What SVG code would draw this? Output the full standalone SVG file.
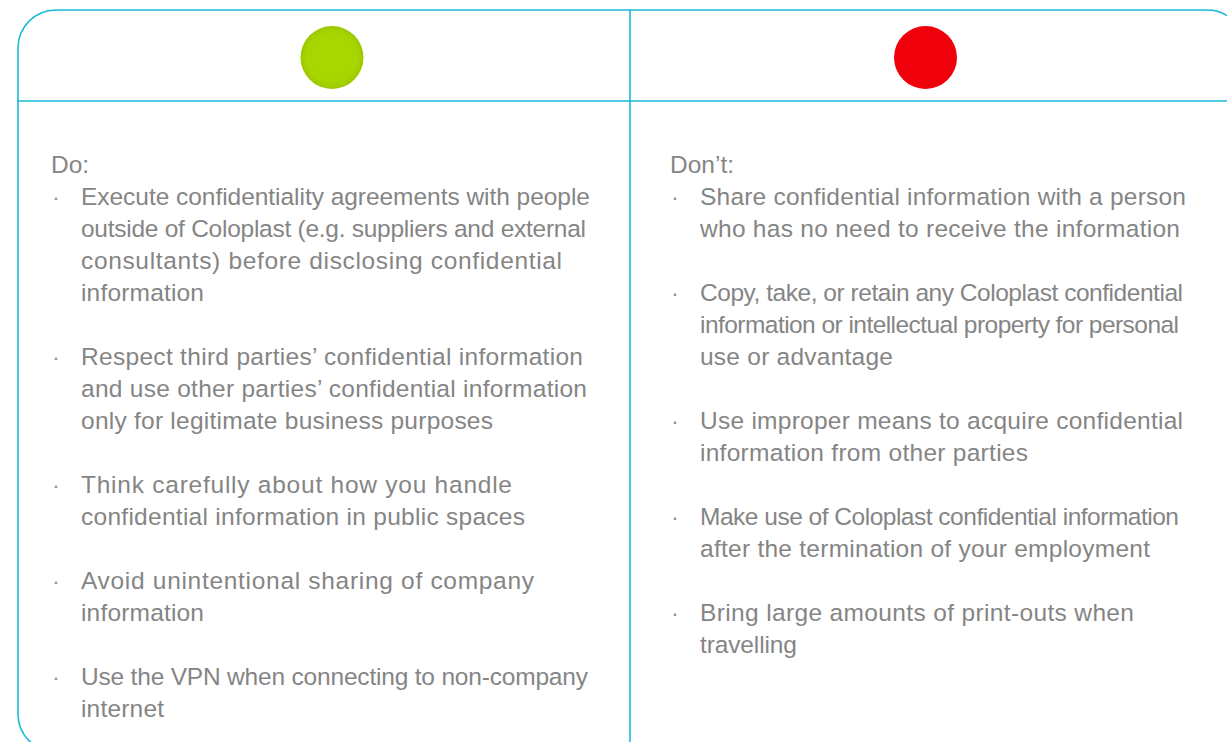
<svg xmlns="http://www.w3.org/2000/svg" width="1227" height="742" viewBox="0 0 1227 742">
<style>
.frame{fill:none;stroke:#19b9d9;stroke-width:1.6}
.t{font-family:"Liberation Sans",Arial,sans-serif;font-size:24.5px;fill:#858585}
.b{font-family:"Liberation Sans",Arial,sans-serif;font-size:22px;fill:#8a8a8a;text-anchor:middle}
</style>
<defs>
<radialGradient id="g" cx="0.5" cy="0.5" r="0.5">
<stop offset="0" stop-color="#aad800"/>
<stop offset="0.8" stop-color="#a6d500"/>
<stop offset="1" stop-color="#9cc800"/>
</radialGradient>
</defs>
<rect width="1227" height="742" fill="#ffffff"/>
<g id="frame">
<rect class="frame" x="18" y="10" width="1227" height="742" rx="38" ry="38"/>
<line class="frame" x1="18" y1="101" x2="1227" y2="101"/>
<line class="frame" x1="630" y1="10" x2="630" y2="742"/>
</g>
<g id="do-icon"><circle cx="332" cy="57.5" r="31.5" fill="url(#g)"/></g>
<g id="dont-icon"><circle cx="925.5" cy="57.5" r="31.5" fill="#f0000a"/></g>
<g id="do-list">
<text class="t" x="51" y="173">Do:</text>
<text class="b" x="56" y="205">·</text>
<text class="t" x="81" y="205" textLength="509">Execute confidentiality agreements with people</text>
<text class="t" x="81" y="237" textLength="505">outside of Coloplast (e.g. suppliers and external</text>
<text class="t" x="81" y="269" textLength="481">consultants) before disclosing confidential</text>
<text class="t" x="81" y="301" textLength="123">information</text>
<text class="b" x="56" y="365">·</text>
<text class="t" x="81" y="365" textLength="502">Respect third parties’ confidential information</text>
<text class="t" x="81" y="397" textLength="506">and use other parties’ confidential information</text>
<text class="t" x="81" y="429" textLength="412">only for legitimate business purposes</text>
<text class="b" x="56" y="493">·</text>
<text class="t" x="81" y="493" textLength="431">Think carefully about how you handle</text>
<text class="t" x="81" y="525" textLength="444">confidential information in public spaces</text>
<text class="b" x="56" y="589">·</text>
<text class="t" x="81" y="589" textLength="453">Avoid unintentional sharing of company</text>
<text class="t" x="81" y="621" textLength="123">information</text>
<text class="b" x="56" y="685">·</text>
<text class="t" x="81" y="685" textLength="507">Use the VPN when connecting to non-company</text>
<text class="t" x="81" y="717" textLength="83">internet</text>
</g>
<g id="dont-list">
<text class="t" x="670" y="173">Don’t:</text>
<text class="b" x="675" y="205">·</text>
<text class="t" x="700" y="205" textLength="486">Share confidential information with a person</text>
<text class="t" x="700" y="237" textLength="480">who has no need to receive the information</text>
<text class="b" x="675" y="301">·</text>
<text class="t" x="700" y="301" textLength="483">Copy, take, or retain any Coloplast confidential</text>
<text class="t" x="700" y="333" textLength="479">information or intellectual property for personal</text>
<text class="t" x="700" y="365" textLength="193">use or advantage</text>
<text class="b" x="675" y="429">·</text>
<text class="t" x="700" y="429" textLength="483">Use improper means to acquire confidential</text>
<text class="t" x="700" y="461" textLength="328">information from other parties</text>
<text class="b" x="675" y="525">·</text>
<text class="t" x="700" y="525" textLength="479">Make use of Coloplast confidential information</text>
<text class="t" x="700" y="557" textLength="450">after the termination of your employment</text>
<text class="b" x="675" y="621">·</text>
<text class="t" x="700" y="621" textLength="434">Bring large amounts of print-outs when</text>
<text class="t" x="700" y="653" textLength="97">travelling</text>
</g>
</svg>
